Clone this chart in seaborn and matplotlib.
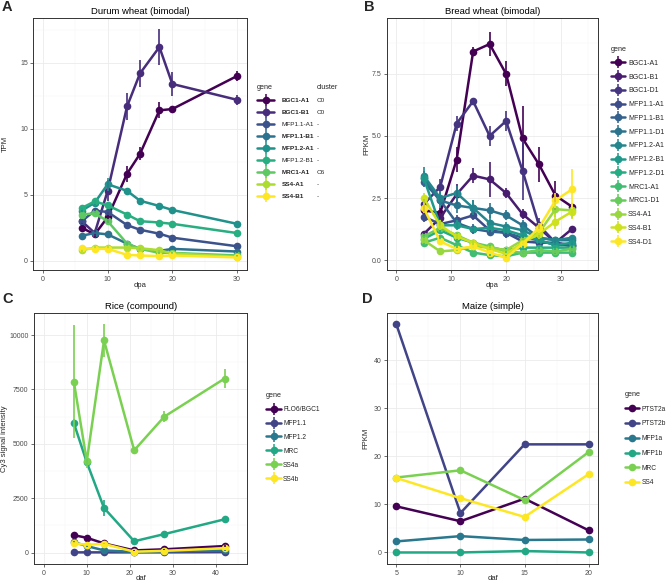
import numpy as np
import pandas as pd
import matplotlib
matplotlib.use("Agg")
import matplotlib.pyplot as plt
import seaborn as sns
from matplotlib.lines import Line2D
from matplotlib.legend_handler import HandlerTuple
from matplotlib.ticker import MultipleLocator

# ---------------- A: durum wheat (TPM) ----------------
durum_dpa = [6, 8, 10, 13, 15, 18, 20, 30]
durum_genes = ["BGC1-A1", "BGC1-B1", "MFP1.1-A1", "MFP1.1-B1", "MFP1.2-A1",
               "MFP1.2-B1", "MRC1-A1", "SS4-A1", "SS4-B1"]
durum_bold = [True, True, False, True, True, False, True, True, True]
durum_cluster = ["C0", "C0", "-", "-", "-", "-", "C6", "-", "-"]
durum_tpm = {
    "BGC1-A1":   [2.5, 2.0, 3.3, 6.6, 8.1, 11.4, 11.5, 14.0],
    "BGC1-B1":   [3.0, 2.1, 5.3, 11.7, 14.2, 16.2, 13.4, 12.2],
    "MFP1.1-A1": [3.0, 3.8, 3.7, 2.7, 2.35, 2.05, 1.75, 1.1],
    "MFP1.1-B1": [1.9, 2.1, 2.0, 1.3, 0.9, 0.75, 0.9, 0.7],
    "MFP1.2-A1": [3.8, 4.4, 5.8, 5.3, 4.55, 4.15, 3.85, 2.8],
    "MFP1.2-B1": [4.0, 4.5, 4.2, 3.5, 3.0, 2.9, 2.8, 2.1],
    "MRC1-A1":   [3.5, 3.6, 3.0, 1.3, 0.9, 0.6, 0.6, 0.4],
    "SS4-A1":    [0.8, 1.0, 1.0, 1.0, 0.95, 0.8, 0.55, 0.3],
    "SS4-B1":    [0.95, 0.9, 0.9, 0.45, 0.4, 0.35, 0.4, 0.25],
}
durum_err = {
    "BGC1-A1":   [0.2, 0.2, 0.4, 0.6, 0.5, 0.6, 0.2, 0.35],
    "BGC1-B1":   [0.2, 0.2, 0.8, 1.0, 1.0, 1.4, 0.9, 0.4],
    "MFP1.1-A1": [0.15, 0.2, 0.2, 0.15, 0.1, 0.1, 0.1, 0.1],
    "MFP1.1-B1": [0.15, 0.1, 0.1, 0.1, 0.1, 0.1, 0.1, 0.1],
    "MFP1.2-A1": [0.2, 0.2, 0.5, 0.15, 0.1, 0.1, 0.1, 0.1],
    "MFP1.2-B1": [0.15, 0.2, 0.2, 0.1, 0.1, 0.1, 0.1, 0.1],
    "MRC1-A1":   [0.2, 0.2, 0.2, 0.15, 0.1, 0.1, 0.1, 0.05],
    "SS4-A1":    [0.1, 0.1, 0.1, 0.1, 0.1, 0.1, 0.05, 0.05],
    "SS4-B1":    [0.1, 0.1, 0.1, 0.05, 0.05, 0.05, 0.05, 0.05],
}

# ---------------- B: bread wheat (FPKM) ----------------
bread_dpa = [5, 8, 11, 14, 17, 20, 23, 26, 29, 32]
bread_genes = ["BGC1-A1", "BGC1-B1", "BGC1-D1", "MFP1.1-A1", "MFP1.1-B1",
               "MFP1.1-D1", "MFP1.2-A1", "MFP1.2-B1", "MFP1.2-D1", "MRC1-A1",
               "MRC1-D1", "SS4-A1", "SS4-B1", "SS4-D1"]
bread_fpkm = {
    "BGC1-A1":   [2.0, 1.9, 4.05, 8.4, 8.7, 7.5, 4.9, 3.85, 2.6, 2.15],
    "BGC1-B1":   [1.05, 1.7, 2.65, 3.4, 3.25, 2.7, 1.85, 1.3, 0.7, 1.25],
    "BGC1-D1":   [2.25, 2.95, 5.5, 6.4, 5.0, 5.6, 3.6, 1.4, 0.7, 0.55],
    "MFP1.1-A1": [1.75, 1.45, 1.6, 1.8, 1.2, 1.1, 0.75, 0.7, 0.7, 0.6],
    "MFP1.1-B1": [3.15, 2.4, 1.5, 1.25, 1.15, 1.1, 0.9, 0.8, 0.6, 0.6],
    "MFP1.1-D1": [3.3, 2.4, 2.2, 2.1, 2.0, 1.8, 1.4, 0.9, 0.8, 0.8],
    "MFP1.2-A1": [3.4, 2.5, 2.7, 2.1, 1.5, 1.35, 1.2, 0.9, 0.8, 0.9],
    "MFP1.2-B1": [3.3, 1.4, 1.4, 1.25, 1.3, 1.2, 1.0, 0.8, 0.6, 0.7],
    "MFP1.2-D1": [0.85, 1.2, 0.9, 0.7, 0.5, 0.4, 0.5, 0.5, 0.5, 0.5],
    "MRC1-A1":   [0.7, 0.9, 0.6, 0.3, 0.2, 0.15, 0.3, 0.3, 0.3, 0.3],
    "MRC1-D1":   [0.95, 1.3, 1.0, 0.7, 0.55, 0.35, 0.3, 0.4, 0.35, 0.45],
    "SS4-A1":    [0.8, 0.35, 0.4, 0.55, 0.5, 0.4, 0.8, 1.1, 2.05, 2.0],
    "SS4-B1":    [2.5, 1.4, 0.95, 0.7, 0.45, 0.25, 0.7, 1.05, 1.55, 1.95],
    "SS4-D1":    [2.1, 0.75, 0.45, 0.55, 0.3, 0.1, 0.65, 1.3, 2.4, 2.85],
}
bread_err = {
    "BGC1-A1":   [0.2, 0.2, 0.5, 0.2, 0.5, 0.5, 1.3, 0.7, 0.6, 0.15],
    "BGC1-B1":   [0.1, 0.2, 0.4, 0.3, 0.7, 0.2, 0.2, 0.2, 0.1, 0.1],
    "BGC1-D1":   [0.2, 0.3, 0.3, 0.1, 0.4, 0.4, 1.2, 0.3, 0.1, 0.1],
    "MFP1.1-A1": [0.2, 0.2, 0.2, 0.2, 0.2, 0.2, 0.1, 0.1, 0.1, 0.1],
    "MFP1.1-B1": [0.2, 0.2, 0.2, 0.2, 0.2, 0.1, 0.1, 0.1, 0.1, 0.1],
    "MFP1.1-D1": [0.3, 0.3, 0.3, 0.3, 0.3, 0.2, 0.2, 0.1, 0.1, 0.1],
    "MFP1.2-A1": [0.35, 0.3, 0.3, 0.3, 0.3, 0.2, 0.2, 0.1, 0.1, 0.1],
    "MFP1.2-B1": [0.2, 0.2, 0.2, 0.1, 0.1, 0.1, 0.1, 0.1, 0.1, 0.1],
    "MFP1.2-D1": [0.1, 0.1, 0.1, 0.1, 0.1, 0.1, 0.1, 0.1, 0.1, 0.1],
    "MRC1-A1":   [0.1, 0.1, 0.1, 0.05, 0.05, 0.05, 0.05, 0.05, 0.05, 0.05],
    "MRC1-D1":   [0.1, 0.1, 0.1, 0.1, 0.1, 0.05, 0.05, 0.05, 0.05, 0.05],
    "SS4-A1":    [0.1, 0.05, 0.05, 0.05, 0.05, 0.05, 0.1, 0.1, 0.3, 0.3],
    "SS4-B1":    [0.2, 0.2, 0.1, 0.1, 0.05, 0.05, 0.1, 0.2, 0.3, 0.3],
    "SS4-D1":    [0.2, 0.1, 0.05, 0.05, 0.05, 0.05, 0.1, 0.2, 0.3, 0.8],
}

# ---------------- C: rice (Cy3) ----------------
rice_daf = [7, 10, 14, 21, 28, 42]
rice_genes = ["FLO6/BGC1", "MFP1.1", "MFP1.2", "MRC", "SS4a", "SS4b"]
rice_cy3 = {
    "FLO6/BGC1": [800, 680, 420, 100, 150, 300],
    "MFP1.1":    [10, 10, 10, 10, 10, 20],
    "MFP1.2":    [480, 300, 100, 30, 60, 100],
    "MRC":       [5950, 4150, 2050, 520, 850, 1530],
    "SS4a":      [7850, 4200, 9750, 4700, 6250, 8000],
    "SS4b":      [420, 360, 400, 40, 80, 200],
}
rice_err = {
    "FLO6/BGC1": [60, 50, 40, 20, 20, 40],
    "MFP1.1":    [5, 5, 5, 5, 5, 5],
    "MFP1.2":    [50, 40, 20, 10, 10, 20],
    "MRC":       [200, 150, 350, 60, 80, 80],
    "SS4a":      [2600, 300, 750, 120, 250, 450],
    "SS4b":      [50, 40, 50, 10, 10, 30],
}

# ---------------- D: maize (FPKM) ----------------
maize_daf = [5, 10, 15, 20]
maize_genes = ["PTST2a", "PTST2b", "MFP1a", "MFP1b", "MRC", "SS4"]
maize_fpkm = {
    "PTST2a": [9.6, 6.5, 11.2, 4.6],
    "PTST2b": [47.5, 8.2, 22.5, 22.5],
    "MFP1a":  [2.3, 3.4, 2.6, 2.7],
    "MFP1b":  [0.0, 0.0, 0.3, 0.0],
    "MRC":    [15.6, 17.1, 10.9, 20.9],
    "SS4":    [15.5, 11.3, 7.4, 16.3],
}

sns.set_theme(style="whitegrid")
plt.rcParams["font.family"] = ["Liberation Sans", "DejaVu Sans"]

W, H = 669, 583
fig = plt.figure(figsize=(W / 100, H / 100), dpi=100)

LW = 1.8
MS = 5.5


def viridis(n):
    return [matplotlib.colormaps["viridis"](v) for v in np.linspace(0, 1, n)]


def px_axes(l, t, r, b):
    ax = fig.add_axes([l / W, 1 - b / H, (r - l) / W, (b - t) / H])
    ax._box = (l, t, r, b)
    return ax


def draw(ax, x, genes, vals, errs, title, xlabel, ylabel, ylab_px, xlab_px):
    pal = viridis(len(genes))
    rows = []
    for g in genes:
        for xi, yi in zip(x, vals[g]):
            rows.append({"x": xi, "y": yi, "gene": g})
    df = pd.DataFrame(rows)
    sns.lineplot(data=df, x="x", y="y", hue="gene", hue_order=genes,
                 palette=pal, linewidth=LW, marker="o", markersize=MS,
                 markeredgewidth=0, errorbar=None, legend=False, ax=ax)
    if errs is not None:
        for g, c in zip(genes, pal):
            ax.errorbar(x, vals[g], yerr=errs[g], fmt="none", ecolor=c,
                        elinewidth=1.2, capsize=0)
    ax.set_title(title, fontsize=6.8, pad=3, color="black")
    ax.set_xlabel(xlabel, fontsize=5.5)
    ax.set_ylabel(ylabel, fontsize=5.5)
    l, t, r, b = ax._box
    ax.yaxis.set_label_coords((ylab_px - l) / (r - l), 0.5)
    ax.yaxis.label.set_va("center")
    ax.xaxis.set_label_coords(0.5, (b - xlab_px) / (b - t))
    ax.xaxis.label.set_va("center")
    ax.set_facecolor("white")
    for s in ax.spines.values():
        s.set_color("#333333")
        s.set_linewidth(0.7)
    ax.tick_params(axis="both", which="major", labelsize=5, labelcolor="#4D4D4D",
                   color="#333333", length=2.5, width=0.5, pad=1.5,
                   bottom=True, left=True)
    ax.tick_params(axis="both", which="minor", length=0)
    ax.grid(which="major", color="#EBEBEB", linewidth=0.6)
    ax.grid(which="minor", color="#F4F4F4", linewidth=0.35)
    return pal


def gene_legend(ax, genes, pal, x_px, y_px, row_px, key_px, gap_px, fs,
                bars=True):
    px = fs * 100 / 72
    handles = []
    for c in pal:
        line = Line2D([], [], color=c, linewidth=LW, marker="o", markersize=MS,
                      markeredgewidth=0)
        if bars:
            vbar = Line2D([], [], color=c, linestyle="none", marker="|",
                          markersize=9, markeredgewidth=1.1)
            handles.append((line, vbar))
        else:
            handles.append(line)
    leg = ax.legend(handles, genes, loc="upper left",
                    bbox_to_anchor=(x_px / W, 1 - y_px / H),
                    bbox_transform=fig.transFigure, frameon=False,
                    title="gene", title_fontsize=5.2, fontsize=fs,
                    handlelength=key_px / px, handletextpad=gap_px / px,
                    labelspacing=row_px / px - 1.0, borderpad=0,
                    borderaxespad=0, alignment="left",
                    handler_map={tuple: HandlerTuple(ndivide=1)})
    return leg


# A
axA = px_axes(33.3, 18, 246.7, 270)
palA = draw(axA, durum_dpa, durum_genes, durum_tpm, durum_err,
            "Durum wheat (bimodal)", "dpa", "TPM", 5, 285)
axA.set_xlim(-1.5, 31.5)
axA.set_ylim(-0.7, 18.4)
axA.xaxis.set_major_locator(MultipleLocator(10))
axA.xaxis.set_minor_locator(MultipleLocator(5))
axA.yaxis.set_major_locator(MultipleLocator(5))
axA.yaxis.set_minor_locator(MultipleLocator(2.5))
FS_A = 4.6
ROW_A = 12.9
legA = gene_legend(axA, durum_genes, palA, 257, 84, ROW_A, 17, 8, FS_A)
for t, b in zip(legA.get_texts(), durum_bold):
    t.set_fontweight("bold" if b else "normal")
axA.add_artist(legA)
blank = [Line2D([], [], alpha=0) for _ in durum_cluster]
pxA = FS_A * 100 / 72
legC = axA.legend(blank, durum_cluster, loc="upper left",
                  bbox_to_anchor=(317 / W, 1 - 84 / H),
                  bbox_transform=fig.transFigure, frameon=False,
                  title="cluster", title_fontsize=5.2, fontsize=FS_A,
                  handlelength=0, handletextpad=0,
                  labelspacing=ROW_A / pxA - 1.0,
                  borderpad=0, borderaxespad=0, alignment="left")

# B
axB = px_axes(386.7, 18, 598, 270)
palB = draw(axB, bread_dpa, bread_genes, bread_fpkm, bread_err,
            "Bread wheat (bimodal)", "dpa", "FPKM", 367, 285)
axB.set_xlim(-1.75, 36.75)
axB.set_ylim(-0.4, 9.75)
axB.xaxis.set_major_locator(MultipleLocator(10))
axB.xaxis.set_minor_locator(MultipleLocator(5))
axB.yaxis.set_major_locator(MultipleLocator(2.5))
axB.yaxis.set_minor_locator(MultipleLocator(1.25))
gene_legend(axB, bread_genes, palB, 611, 46, 13.7, 14, 3, 5.0)

# C
axCc = px_axes(34, 312.7, 247.3, 564)
palC = draw(axCc, rice_daf, rice_genes, rice_cy3, rice_err,
            "Rice (compound)", "daf", "Cy3 signal intensity", 5, 578)
axCc.set_xlim(-2.25, 47.25)
axCc.set_ylim(-525, 11025)
axCc.xaxis.set_major_locator(MultipleLocator(10))
axCc.xaxis.set_minor_locator(MultipleLocator(5))
axCc.yaxis.set_major_locator(MultipleLocator(2500))
axCc.yaxis.set_minor_locator(MultipleLocator(1250))
gene_legend(axCc, rice_genes, palC, 266, 392, 13.6, 15, 2, 4.8)

# D
axD = px_axes(386.7, 312.7, 598.3, 564)
palD = draw(axD, maize_daf, maize_genes, maize_fpkm, None,
            "Maize (simple)", "daf", "FPKM", 366, 578)
axD.set_xlim(4.25, 20.75)
axD.set_ylim(-2.4, 49.9)
axD.xaxis.set_major_locator(MultipleLocator(5))
axD.xaxis.set_minor_locator(MultipleLocator(2.5))
axD.yaxis.set_major_locator(MultipleLocator(10))
axD.yaxis.set_minor_locator(MultipleLocator(5))
gene_legend(axD, maize_genes, palD, 625, 391, 14.4, 14, 3, 4.8, bars=False)

for lab, xp, yp in [("A", 2, 0), ("B", 364, 0), ("C", 2, 292), ("D", 362, 292)]:
    fig.text(xp / W, 1 - yp / H, lab, fontsize=10.5, fontweight="bold",
             va="top", ha="left")

fig.savefig("out.png", dpi=100, facecolor="white")
